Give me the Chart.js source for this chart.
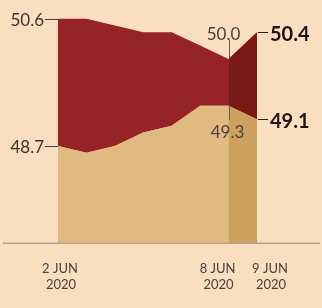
<!DOCTYPE html>
<html><head><meta charset="utf-8">
<script src="https://cdn.jsdelivr.net/npm/chart.js@4"></script>
<style>html,body{margin:0;padding:0;background:#f9dec0;}#wrap{width:322px;height:308px;position:relative;}</style>
</head><body><div id="wrap"><canvas id="c"></canvas></div>
<script>
const days = [2, 3, 4, 5, 6, 7, 8, 9];
const dayLabels = ['2 JUN', '3 JUN', '4 JUN', '5 JUN', '6 JUN', '7 JUN', '8 JUN', '9 JUN'];
const yearLabels = ['2020', '2020', '2020', '2020', '2020', '2020', '2020', '2020'];
const upper = [50.6, 50.6, 50.5, 50.4, 50.4, 50.2, 50.0, 50.4];
const lower = [48.7, 48.6, 48.7, 48.9, 49.0, 49.3, 49.3, 49.1];
const yMin = 47.25, yMax = 50.88;

const pts = (vals, a, b) => days.slice(a, b).map((d, i) => ({x: d, y: vals[a + i]}));
const n = days.length;

const BG = '#f9dec0', RED = '#962426', DRED = '#7a1a17', TAN = '#e0ba80', DTAN = '#cda05e';
const TXT = '#3d3432';

const overlay = {
  id: 'overlay',
  beforeDraw(chart) {
    const {ctx, width, height} = chart;
    ctx.save(); ctx.fillStyle = BG; ctx.fillRect(0, 0, width, height); ctx.restore();
  },
  afterDraw(chart) {
    const ctx = chart.ctx, xs = chart.scales.x, ys = chart.scales.y, ca = chart.chartArea;
    const X = i => xs.getPixelForValue(days[i]);
    ctx.save();
    // baseline
    ctx.strokeStyle = '#b9a08a'; ctx.lineWidth = 1.5;
    ctx.beginPath(); ctx.moveTo(3, ca.bottom + 0.25); ctx.lineTo(320, ca.bottom + 0.25); ctx.stroke();

    ctx.strokeStyle = '#4a403c'; ctx.lineWidth = 1;
    // left labels
    const x0 = X(0);
    ctx.font = '17px Lato'; ctx.fillStyle = TXT; ctx.textAlign = 'right'; ctx.textBaseline = 'middle';
    [upper[0], lower[0]].forEach(v => {
      const y = Math.round(ys.getPixelForValue(v)) + 0.5;
      ctx.beginPath(); ctx.moveTo(x0 - 13, y); ctx.lineTo(x0, y); ctx.stroke();
      ctx.fillText(v.toFixed(1), x0 - 14, y + 1);
    });
    // middle labels (index n-2)
    const xm = Math.round(X(n - 2)) + 0.5;
    const yU = ys.getPixelForValue(upper[n - 2]), yL = ys.getPixelForValue(lower[n - 2]);
    ctx.strokeStyle = '#6a5c55';
    ctx.beginPath(); ctx.moveTo(xm, yU - 19); ctx.lineTo(xm, yU); ctx.stroke();
    ctx.beginPath(); ctx.moveTo(xm, yL); ctx.lineTo(xm, yL + 14); ctx.stroke();
    ctx.font = '17px Lato'; ctx.fillStyle = '#4a403c'; ctx.textAlign = 'center';
    ctx.textBaseline = 'alphabetic';
    ctx.fillText(upper[n - 2].toFixed(1), xm - 6, yU - 19);
    ctx.textBaseline = 'middle';
    ctx.fillText(lower[n - 2].toFixed(1), xm - 2, yL + 27);
    // right bold labels
    const xr = X(n - 1);
    ctx.strokeStyle = '#2a2020';
    ctx.font = 'bold 20px Lato'; ctx.fillStyle = '#1c1414'; ctx.textAlign = 'left';
    [upper[n - 1], lower[n - 1]].forEach(v => {
      const y = Math.round(ys.getPixelForValue(v)) + 0.5;
      ctx.beginPath(); ctx.moveTo(xr + 1, y); ctx.lineTo(xr + 11, y); ctx.stroke();
      ctx.fillText(v.toFixed(1), xr + 13, y + 2);
    });
    // x labels
    ctx.font = '13px Lato'; ctx.fillStyle = '#4a403c'; ctx.textAlign = 'center'; ctx.textBaseline = 'middle';
    const xl = [[0, 2], [n - 2, -11], [n - 1, 13]];
    xl.forEach(([i, dx]) => {
      ctx.fillText(dayLabels[i], X(i) + dx, 269);
      ctx.fillText(yearLabels[i], X(i) + dx + 1, 285);
    });
    ctx.restore();
  }
};

new Chart(document.getElementById('c'), {
  type: 'line',
  data: {
    datasets: [
      {data: pts(lower, n - 2, n), fill: 'start', backgroundColor: DTAN},
      {data: pts(upper, n - 2, n), fill: 0, backgroundColor: DRED},
      {data: pts(lower, 0, n), fill: 'start', backgroundColor: TAN},
      {data: pts(upper, 0, n), fill: 2, backgroundColor: RED}
    ]
  },
  options: {
    responsive: true, maintainAspectRatio: false, animation: false,
    layout: {padding: {left: 58, right: 65, top: 0, bottom: 65}},
    elements: {point: {radius: 0}, line: {borderWidth: 0, tension: 0}},
    plugins: {legend: {display: false}, tooltip: {enabled: false}},
    scales: {
      x: {type: 'linear', min: days[0], max: days[n - 1], display: false},
      y: {min: yMin, max: yMax, display: false}
    }
  },
  plugins: [overlay]
});
</script></body></html>
